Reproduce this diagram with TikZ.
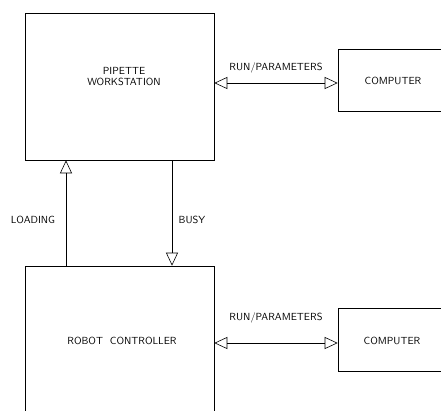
\documentclass[tikz,border=0pt]{standalone}
\usetikzlibrary{arrows.meta}
\begin{document}
\begin{tikzpicture}[x=1pt,y=-1pt,
  box/.style={draw,line width=0.6pt,rectangle,inner sep=0pt},
  lbl/.style={font=\sffamily\fontsize{10.3}{12}\selectfont,inner sep=0pt},
  link/.style={line width=0.6pt,-{Triangle[open,length=13pt,width=12pt]}},
  dual/.style={line width=0.6pt,{Triangle[open,length=13pt,width=12pt]}-{Triangle[open,length=13pt,width=12pt]}}]
\useasboundingbox (0,0) rectangle (441,410);
\clip (0,0) rectangle (441,410);
% boxes
\node[box,minimum width=189pt,minimum height=147pt] (pw) at (119.5,86.5) {};
\node[box,minimum width=189pt,minimum height=184pt] (rc) at (119.5,358) {};
\node[box,minimum width=122pt,minimum height=62pt] (c1) at (399,80) {};
\node[box,minimum width=122pt,minimum height=63pt] (c2) at (399,339.5) {};
% box texts
\node[lbl,align=center] (pwt) at (124,77) {PIPETTE\\[-1pt]WORKSTATION};
\node[lbl] (rct) at (122,341) {ROBOT\ \ CONTROLLER};
\node[lbl] (c1t) at (393,81) {COMPUTER};
\node[lbl] (c2t) at (392,341) {COMPUTER};
% connector anchor points
\coordinate (a1) at (0,83);
\coordinate (a2) at (0,343);
\coordinate (ld) at (66,0);
\coordinate (bs) at (172,0);
\draw[dual] (pw.east |- a1) -- (c1.west |- a1);
\draw[dual] (rc.north east |- a2) -- (c2.west |- a2);
\draw[link] (rc.north -| ld) -- (pw.south -| ld);
\draw[link] (pw.south -| bs) -- (rc.north -| bs);
% connector labels
\node[lbl] (l1) at (276,68) {RUN/PARAMETERS};
\node[lbl] (l2) at (276,318) {RUN/PARAMETERS};
\node[lbl] (l3) at (33,220) {LOADING};
\node[lbl] (l4) at (192,220) {BUSY};
\end{tikzpicture}
\end{document}
